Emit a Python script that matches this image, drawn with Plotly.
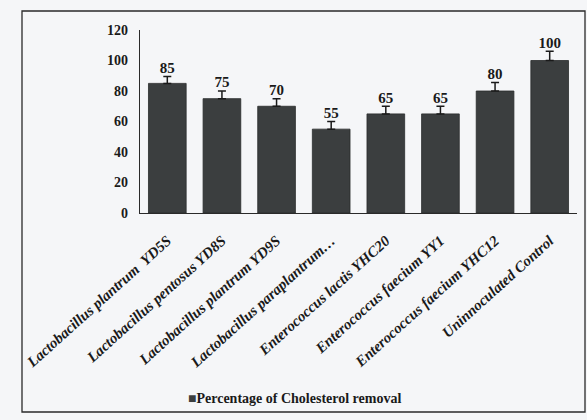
import plotly.graph_objects as go

# Cholesterol removal by strain (%)
strains = [
    "Lactobacillus plantrum  YD5S",
    "Lactobacillus pentosus YD8S",
    "Lactobacillus plantrum YD9S",
    "Lactobacillus paraplantrum…",
    "Enterococcus lactis YHC20",
    "Enterococcus faecium YY1",
    "Enterococcus faecium YHC12",
    "Uninnoculated Control",
]
removal = [85, 75, 70, 55, 65, 65, 80, 100]
error = [4.5, 5, 5, 5, 5, 5, 5.5, 6]
y_ticks = [0, 20, 40, 60, 80, 100, 120]
series_name = "Percentage of Cholesterol removal"

W, H = 587, 420
L, R, T, B = 140, 10, 30, 207
pw, ph = W - L - R, H - T - B

def px(x):
    return (x - L) / pw

def py(y):
    return (H - B - y) / ph

serif = "Liberation Serif, Times New Roman, serif"
ink = "#1a1a1a"
bar_color = "#3b3e3f"
bg = "#f5f6f8"

fig = go.Figure()
fig.add_trace(go.Bar(
    x=strains, y=removal,
    name=series_name, showlegend=False,
    marker=dict(color=bar_color, line=dict(color="#2a2c2c", width=0.8)),
    error_y=dict(type="data", symmetric=False, array=error,
                 arrayminus=[0] * len(error),
                 color=ink, thickness=1.5, width=4),
))
fig.add_trace(go.Scatter(
    x=strains, y=[v + e for v, e in zip(removal, error)],
    mode="text", text=[str(v) for v in removal],
    textposition="top center",
    textfont=dict(family=serif, size=15, color=ink, weight="bold"),
    showlegend=False, hoverinfo="skip",
))

fig.update_layout(
    width=W, height=H,
    margin=dict(l=L, r=R, t=T, b=B),
    paper_bgcolor=bg, plot_bgcolor=bg,
    bargap=0.31,
    showlegend=False,
    xaxis=dict(
        showline=True, linecolor="#2a2a2a", linewidth=1.2,
        tickangle=-42, ticks="", ticklabelstandoff=12,
        tickfont=dict(family=serif, size=15, color=ink, style="italic", weight="bold"),
        showgrid=False,
    ),
    yaxis=dict(
        range=[0, 120], tickvals=y_ticks,
        showline=True, linecolor="#2a2a2a", linewidth=1.2,
        ticks="", showgrid=False, zeroline=False, ticklabelstandoff=8,
        tickfont=dict(family=serif, size=14, color=ink, weight="bold"),
    ),
    annotations=[dict(
        xref="paper", yref="paper", x=px(186), y=py(398),
        xanchor="left", yanchor="middle", showarrow=False,
        text="<span style='font-size:14px;color:#3b3e3f'>■</span>" + series_name,
        font=dict(family=serif, size=14, color=ink, weight="bold"),
    )],
    shapes=[dict(
        type="rect", xref="paper", yref="paper",
        x0=px(22), x1=px(585), y0=py(412), y1=py(11),
        line=dict(color="#2a2a2a", width=1.3), layer="below",
    )],
)

fig.write_html("out.html")
